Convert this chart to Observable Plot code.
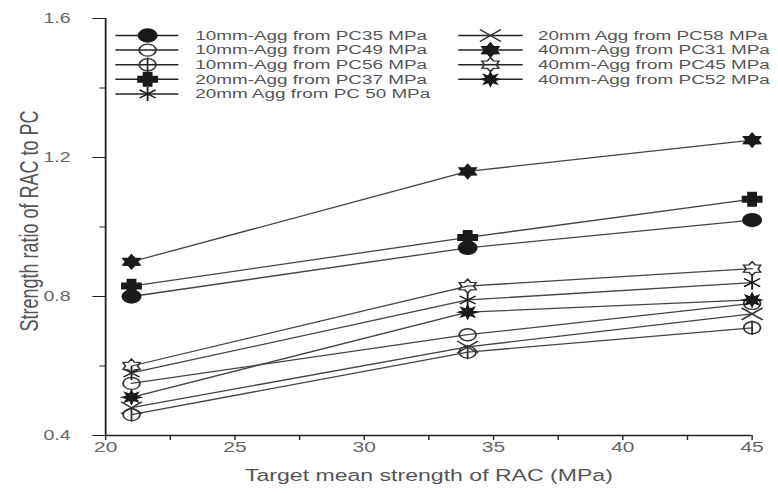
<!DOCTYPE html>
<html><head><meta charset="utf-8">
<script src="https://cdn.jsdelivr.net/npm/d3@7"></script>
<script src="https://cdn.jsdelivr.net/npm/@observablehq/plot@0.6"></script>
<style>
html,body{margin:0;padding:0;background:#fff}
#chart svg{display:block}
</style></head><body><div id="chart"></div>
<script>
// ---------------- data ----------------
const targetStrength = [21, 34, 45];
const seriesNames = [
  "10mm-Agg from PC35 MPa",
  "10mm-Agg from PC49 MPa",
  "10mm-Agg from PC56 MPa",
  "20mm-Agg from PC37 MPa",
  "20mm Agg from PC 50 MPa",
  "20mm Agg from PC58 MPa",
  "40mm-Agg from PC31 MPa",
  "40mm-Agg from PC45 MPa",
  "40mm-Agg from PC52 MPa"
];
const pc35 = [0.80, 0.94, 1.02];
const pc49 = [0.55, 0.69, 0.78];
const pc56 = [0.46, 0.64, 0.71];
const pc37 = [0.83, 0.97, 1.08];
const pc50 = [0.58, 0.79, 0.84];
const pc58 = [0.48, 0.655, 0.75];
const pc31 = [0.90, 1.16, 1.25];
const pc45 = [0.60, 0.83, 0.88];
const pc52 = [0.51, 0.755, 0.79];
const seriesValues = [pc35, pc49, pc56, pc37, pc50, pc58, pc31, pc45, pc52];
const xTicks = [20, 25, 30, 35, 40, 45];
const xMinorTicks = [22.5, 27.5, 32.5, 37.5, 42.5];
const yTicks = [0.4, 0.8, 1.2, 1.6];
const yMinorTicks = [0.6, 1.0, 1.4];
const xTitle = "Target mean strength of RAC (MPa)";
const yTitle = "Strength ratio of RAC to PC";

// ---------------- symbols ----------------
const K = 0.5523;
function rOf(s) { return Math.sqrt(s / Math.PI); }
function ellipse(ctx, rx, ry) {
  ctx.moveTo(rx, 0);
  ctx.bezierCurveTo(rx, K * ry, K * rx, ry, 0, ry);
  ctx.bezierCurveTo(-K * rx, ry, -rx, K * ry, -rx, 0);
  ctx.bezierCurveTo(-rx, -K * ry, -K * rx, -ry, 0, -ry);
  ctx.bezierCurveTo(K * rx, -ry, rx, -K * ry, rx, 0);
  ctx.closePath();
}
function starPath(ctx, n, R, ri) {
  for (let i = 0; i < 2 * n; i++) {
    const a = -Math.PI / 2 + i * Math.PI / n;
    const rr = i % 2 ? ri : R;
    const px = rr * Math.cos(a), py = rr * Math.sin(a);
    if (i === 0) ctx.moveTo(px, py); else ctx.lineTo(px, py);
  }
  ctx.closePath();
}
const sym = {
  disc: {draw(ctx, s) { const r = rOf(s); ellipse(ctx, r, r); }},
  ring: {draw(ctx, s) { const r = rOf(s); ellipse(ctx, r, r); }},
  ringPlus: {draw(ctx, s) { const r = rOf(s); ellipse(ctx, r, r); ctx.moveTo(0, -r * 1.2); ctx.lineTo(0, r * 1.2); }},
  plus: {draw(ctx, s) {
    const r = rOf(s), w = r * 0.42;
    ctx.moveTo(-r, -w); ctx.lineTo(-w, -w); ctx.lineTo(-w, -r); ctx.lineTo(w, -r);
    ctx.lineTo(w, -w); ctx.lineTo(r, -w); ctx.lineTo(r, w); ctx.lineTo(w, w);
    ctx.lineTo(w, r); ctx.lineTo(-w, r); ctx.lineTo(-w, w); ctx.lineTo(-r, w); ctx.closePath();
  }},
  asterisk: {draw(ctx, s) {
    const r = rOf(s);
    for (const a of [90, 35, -35]) {
      const c = Math.cos(a * Math.PI / 180) * r, d = Math.sin(a * Math.PI / 180) * r;
      ctx.moveTo(-c, -d); ctx.lineTo(c, d);
    }
  }},
  times: {draw(ctx, s) {
    const r = rOf(s);
    ctx.moveTo(-r, -0.8 * r); ctx.lineTo(r, 0.8 * r);
    ctx.moveTo(-r, 0.8 * r); ctx.lineTo(r, -0.8 * r);
  }},
  star6: {draw(ctx, s) { const r = rOf(s); starPath(ctx, 6, r, r * 0.6); }},
  star6open: {draw(ctx, s) { const r = rOf(s); starPath(ctx, 6, r, r * 0.62); }},
  star8: {draw(ctx, s) { const r = rOf(s); starPath(ctx, 8, r, r * 0.5); }}
};
const ink = "#1a1a1a";
const seriesStyle = [
  {symbol: sym.disc, fill: ink, stroke: ink, r: 6.5},
  {symbol: sym.ring, fill: "none", stroke: "#333", r: 6},
  {symbol: sym.ringPlus, fill: "none", stroke: "#333", r: 6},
  {symbol: sym.plus, fill: ink, stroke: ink, r: 6.8},
  {symbol: sym.asterisk, fill: "none", stroke: ink, r: 7},
  {symbol: sym.times, fill: "none", stroke: "#333", r: 7.5},
  {symbol: sym.star6, fill: ink, stroke: ink, r: 7},
  {symbol: sym.star6open, fill: "none", stroke: "#333", r: 7},
  {symbol: sym.star8, fill: ink, stroke: ink, r: 6.5}
];

// ---------------- layout ----------------
const W = 556, H = 493, OUT_W = 778;            // drawn at W, shown stretched to OUT_W
const mLeft = 75, mRight = 19, mTop = 18, mBottom = 58;
const xPix = d3.scaleLinear([20, 45], [mLeft, W - mRight]);
const yPix = d3.scaleLinear([0.4, 1.6], [H - mBottom, mTop]);

const rows = seriesValues.flatMap((vals, i) =>
  vals.map((v, j) => ({idx: i, x: targetStrength[j], y: v})));

// legend placement (pixels, converted to data units)
const legCols = [{x1: 82, x2: 127, xm: 105, xt: 139}, {x1: 327, x2: 373, xm: 350, xt: 384}];
const legendItems = seriesNames.map((name, i) => {
  const c = legCols[i < 5 ? 0 : 1];
  const row = i < 5 ? i : i - 5;
  const py = 35 + row * 14.6;
  return {
    name, i,
    x1: xPix.invert(c.x1), x2: xPix.invert(c.x2), xm: xPix.invert(c.xm), xt: xPix.invert(c.xt),
    y: yPix.invert(py)
  };
});

const FONT = "'Liberation Sans', Arial, sans-serif";
const lineColor = "#454545";

const marks = [];
// axes
marks.push(Plot.axisX(xTicks, {tickSize: 5, tickPadding: 1, fontSize: 15, fontFamily: FONT, fill: "#666", stroke: "#222", label: null}));
marks.push(Plot.axisX(xMinorTicks, {tickSize: 5, fill: "none", stroke: "#222", label: null}));
marks.push(Plot.axisY(yTicks, {tickSize: 9, tickPadding: 16, fontSize: 14, fontFamily: FONT, fill: "#666", stroke: "#222", tickFormat: d3.format(".1f"), label: null}));
marks.push(Plot.axisY(yMinorTicks, {tickSize: 4, fill: "none", stroke: "#222", label: null}));
marks.push(Plot.ruleX([20], {stroke: "#222", strokeWidth: 1.3}));
marks.push(Plot.ruleY([0.4], {stroke: "#222", strokeWidth: 1.5}));
// titles
marks.push(Plot.text([yTitle], {text: d => d, frameAnchor: "left", textAnchor: "middle", rotate: -90, dx: -54, dy: -6, fontSize: 18, fontFamily: FONT, fill: "#555"}));
marks.push(Plot.text([xTitle], {text: d => d, frameAnchor: "bottom", lineAnchor: "top", dy: 34, fontSize: 16.5, fontFamily: FONT, fill: "#555"}));

// series
seriesValues.forEach((_, i) => {
  const d = rows.filter(r => r.idx === i);
  const st = seriesStyle[i];
  marks.push(Plot.line(d, {x: "x", y: "y", stroke: lineColor, strokeWidth: 1.3}));
  marks.push(Plot.dot(d, {x: "x", y: "y", symbol: st.symbol, r: st.r, fill: st.fill, stroke: st.stroke, strokeWidth: 1.3}));
});

// legend
marks.push(Plot.link(legendItems, {x1: "x1", x2: "x2", y1: "y", y2: "y", stroke: "#222", strokeWidth: 1.5}));
legendItems.forEach((it, i) => {
  const st = seriesStyle[i];
  marks.push(Plot.dot([it], {x: "xm", y: "y", symbol: st.symbol, r: st.r, fill: st.fill, stroke: st.stroke, strokeWidth: 1.3}));
});
marks.push(Plot.text(legendItems, {x: "xt", y: "y", text: "name", textAnchor: "start", fontSize: 13.5, fontFamily: FONT, fill: "#555"}));

const plot = Plot.plot({
  width: W, height: H,
  marginLeft: mLeft, marginRight: mRight, marginTop: mTop, marginBottom: mBottom,
  x: {domain: [20, 45], label: null},
  y: {domain: [0.4, 1.6], label: null},
  marks
});
const svg = plot.tagName.toLowerCase() === "svg" ? plot : plot.querySelector("svg");
svg.setAttribute("width", OUT_W);
svg.setAttribute("height", H);
svg.setAttribute("preserveAspectRatio", "none");
svg.style.width = OUT_W + "px";
svg.style.height = H + "px";
svg.style.maxWidth = "none";
svg.style.fontFamily = FONT;
document.getElementById("chart").appendChild(plot);
</script>
</body></html>
